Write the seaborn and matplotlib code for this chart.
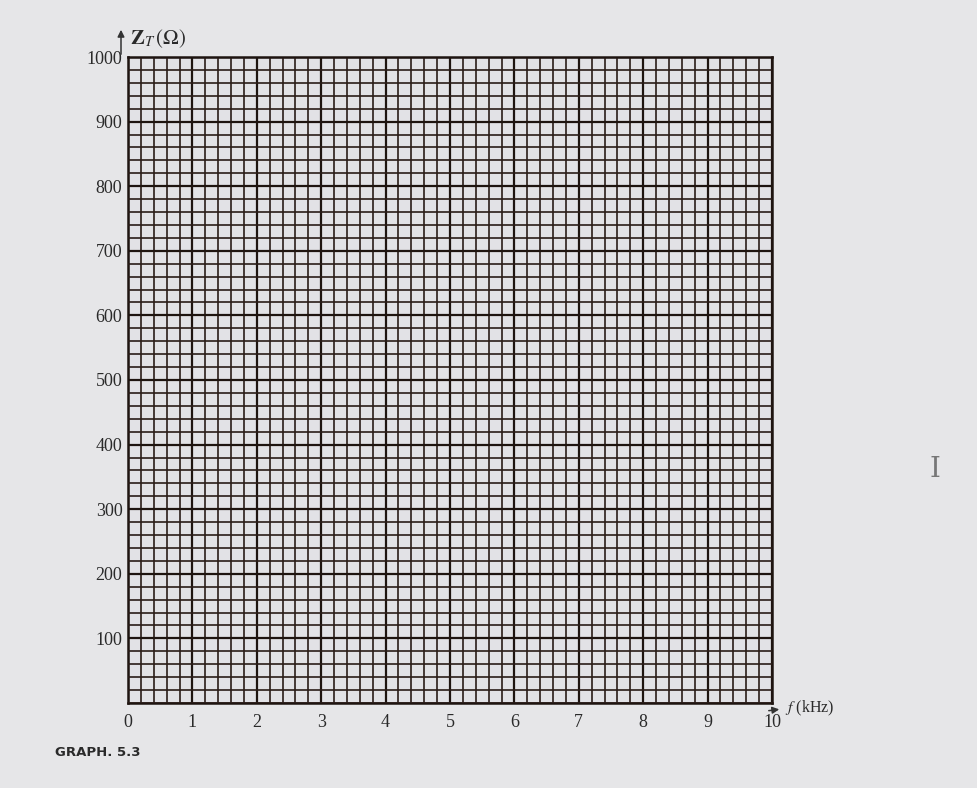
import matplotlib
matplotlib.use("Agg")
import matplotlib.pyplot as plt
from matplotlib.ticker import MultipleLocator
import seaborn as sns
import pandas as pd

# Axis definitions
x_ticks = [0, 1, 2, 3, 4, 5, 6, 7, 8, 9, 10]
y_ticks = [100, 200, 300, 400, 500, 600, 700, 800, 900, 1000]
x_minor_step = 0.2
y_minor_step = 20
x_label = r"$f$ (kHz)"
y_label = r"$\mathbf{Z}_{T}\,(\Omega)$"
caption = "GRAPH. 5.3"

sns.set_theme(style="white")
plt.rcParams['font.family'] = ['Liberation Serif', 'DejaVu Serif']
plt.rcParams['mathtext.fontset'] = 'stix'

fig = plt.figure(figsize=(9.78, 7.88), dpi=100)
fig.patch.set_facecolor('#e6e6e8')
ax = fig.add_axes([128/978, 1 - 703/788, (772-128)/978, (703-57)/788])
ax.set_facecolor('#e2e2e6')

# empty data frame drawn through seaborn (blank graph paper)
df = pd.DataFrame({"f": pd.Series([], dtype=float), "Z": pd.Series([], dtype=float)})
sns.lineplot(data=df, x="f", y="Z", ax=ax)

ax.set_xlim(0, 10)
ax.set_ylim(0, 1000)
ax.set_xticks(x_ticks)
ax.set_yticks(y_ticks)
ax.set_xticklabels([str(v) for v in x_ticks])
ax.set_yticklabels([str(v) for v in y_ticks])
ax.xaxis.set_minor_locator(MultipleLocator(x_minor_step))
ax.yaxis.set_minor_locator(MultipleLocator(y_minor_step))
ax.grid(True, which='minor', color='#2a1c18', linewidth=1.2)
ax.grid(True, which='major', color='#1e1410', linewidth=1.6)
ax.set_axisbelow(False)
ax.tick_params(axis='both', which='both', length=0, labelsize=13, colors='#2a2a2a')
ax.tick_params(axis='x', pad=8)
ax.tick_params(axis='y', pad=4)
for s in ax.spines.values():
    s.set_color('#1e1410')
    s.set_linewidth(1.8)
ax.set_xlabel("")
ax.set_ylabel("")

# axis arrows
fig.add_artist(matplotlib.patches.FancyArrowPatch(
    (121/978, 1 - 57/788), (121/978, 1 - 27/788), transform=fig.transFigure,
    arrowstyle='-|>', mutation_scale=10, color='#333333', lw=1.1))
fig.add_artist(matplotlib.patches.FancyArrowPatch(
    (766/978, 1 - 711/788), (782/978, 1 - 709/788), transform=fig.transFigure,
    arrowstyle='-|>', mutation_scale=10, color='#333333', lw=1.1))

fig.text(130/978, 1 - 39/788, y_label, fontsize=15, color='#2a2a2a', va='center', ha='left')
fig.text(785/978, 1 - 708/788, x_label, fontsize=11.5, color='#2a2a2a', va='center', ha='left')
fig.text(55/978, 1 - 752/788, caption, fontsize=9.5, color='#2a2a2a', va='center', ha='left',
         fontweight='bold', family=['DejaVu Sans'])
fig.text(935/978, 1 - 470/788, "I", fontsize=20, color='#777777', va='center', ha='center',
         family=['DejaVu Serif'])

fig.savefig("out.png", dpi=100, facecolor=fig.get_facecolor())
